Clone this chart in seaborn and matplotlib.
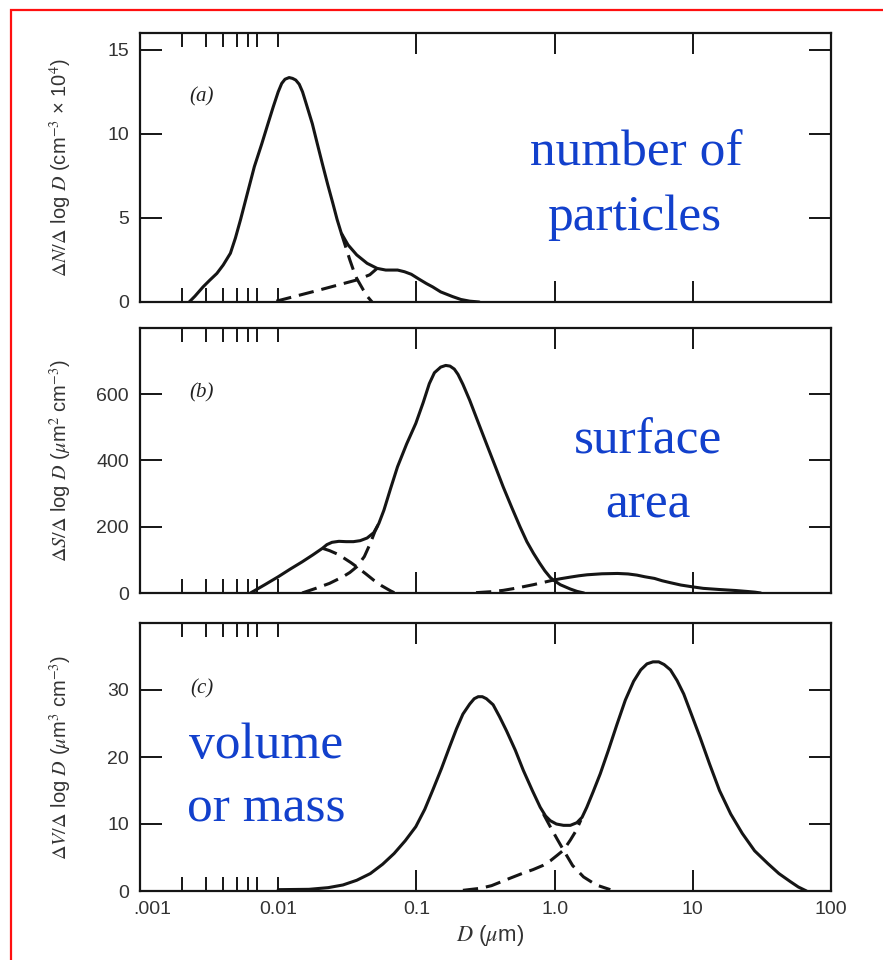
import matplotlib
matplotlib.use('Agg')
import matplotlib.pyplot as plt
import matplotlib.ticker as mticker
from matplotlib.patches import Rectangle
from matplotlib.transforms import ScaledTranslation
import seaborn as sns

# (a) number distribution, dN/dlogD (cm^-3 x 10^4)
a_total_d = [0.00227, 0.0025, 0.00286, 0.0032, 0.0036, 0.0040, 0.00451, 0.0049, 0.00534,
             0.0060, 0.00672, 0.0076, 0.00843, 0.0092, 0.0100, 0.0106, 0.0112, 0.0120,
             0.0127, 0.0134, 0.0142, 0.0150, 0.0158, 0.01766, 0.0192, 0.0209, 0.0228,
             0.0248, 0.0267, 0.0286, 0.0320, 0.037, 0.044, 0.052, 0.060, 0.0731, 0.082,
             0.0918, 0.105, 0.118, 0.131, 0.150, 0.183, 0.210, 0.243, 0.285]
a_total_n = [0, 0.35, 0.9, 1.3, 1.7, 2.2, 2.9, 3.8, 4.9,
             6.5, 8.05, 9.4, 10.6, 11.6, 12.5, 13.0, 13.25, 13.35,
             13.3, 13.2, 12.95, 12.5, 11.9, 10.6, 9.4, 8.2, 7.0,
             5.9, 4.9, 4.1, 3.4, 2.8, 2.3, 2.0, 1.9, 1.9, 1.8,
             1.65, 1.35, 1.1, 0.9, 0.6, 0.32, 0.15, 0.05, 0]
a_nuclei_d = [0.0286, 0.031, 0.033, 0.035, 0.037, 0.0414, 0.0445, 0.0478]
a_nuclei_n = [4.1, 3.2, 2.5, 1.9, 1.4, 0.7, 0.3, 0]
a_accum_d = [0.0097, 0.0198, 0.037, 0.046, 0.052]
a_accum_n = [0.05, 0.71, 1.31, 1.62, 2.0]

# (b) surface distribution, dS/dlogD (um^2 cm^-3)
b_fine_d = [0.0063, 0.008, 0.01, 0.0122, 0.0149, 0.0178, 0.0209, 0.0225, 0.0245, 0.0275,
            0.031, 0.035, 0.0392, 0.044, 0.0491, 0.0535, 0.0582, 0.065, 0.073, 0.085,
            0.099, 0.112, 0.124, 0.135, 0.15, 0.163, 0.175, 0.188, 0.2, 0.217,
            0.243, 0.28, 0.321, 0.37, 0.425, 0.49, 0.562, 0.63, 0.703, 0.78,
            0.85, 0.93, 0.98, 1.1, 1.3, 1.45, 1.63]
b_fine_s = [0, 25, 49, 72, 94, 115, 135, 146, 153, 156,
            155, 155, 158, 166, 182, 210, 250, 315, 381, 450,
            512, 575, 632, 665, 682, 687, 685, 676, 660, 630,
            582, 515, 451, 385, 320, 258, 200, 155, 120, 90,
            67, 47, 39, 25, 12, 5, 0]
b_nuclei_d = [0.0209, 0.0235, 0.027, 0.030, 0.0335, 0.037, 0.043, 0.049, 0.056, 0.0653, 0.070]
b_nuclei_s = [135, 128, 117, 105, 92, 79, 58, 39, 22, 6, 0]
b_accum_d = [0.0149, 0.0187, 0.0235, 0.0294, 0.033, 0.037, 0.042, 0.0464, 0.050, 0.0535]
b_accum_s = [0, 14, 29, 49, 62, 79, 110, 150, 185, 210]
b_coarse_dash_d = [0.27, 0.35, 0.425, 0.5, 0.594, 0.7, 0.83, 0.98]
b_coarse_dash_s = [1, 4, 8, 13, 19, 25, 32, 39]
b_coarse_d = [0.98, 1.1, 1.3, 1.5, 1.72, 2.2, 2.85, 3.4, 3.94, 4.5, 5.28, 6.0, 6.9, 8.2,
              9.8, 11.9, 15.6, 20.4, 25, 28.2, 31]
b_coarse_s = [39, 43, 48, 52, 55, 58, 59, 57.5, 54, 49, 44, 37, 31, 24,
              19, 14, 10.5, 7.5, 4.5, 2.5, 0]

# (c) volume distribution, dV/dlogD (um^3 cm^-3)
c_total_d = [0.01, 0.0167, 0.023, 0.0294, 0.037, 0.0464, 0.057, 0.069, 0.083, 0.099,
             0.115, 0.131, 0.152, 0.173, 0.195, 0.217, 0.243, 0.262, 0.28, 0.30,
             0.321, 0.359, 0.40, 0.449, 0.52, 0.594, 0.69, 0.787, 0.86, 0.93,
             1.03, 1.16, 1.3, 1.45, 1.58, 1.71, 1.9, 2.14, 2.45, 2.83,
             3.25, 3.73, 4.2, 4.66, 5.15, 5.67, 6.2, 6.89, 7.7, 8.6,
             9.8, 11.3, 13.2, 15.6, 18.8, 22.8, 28, 34.9, 42, 50.8, 58, 66.5]
c_total_v = [0.2, 0.25, 0.5, 0.9, 1.6, 2.6, 4.0, 5.6, 7.5, 9.6,
             12.2, 15.0, 18.3, 21.4, 24.2, 26.4, 27.9, 28.7, 29.0, 29.0,
             28.7, 27.8, 26.0, 23.9, 21.0, 18.0, 15.0, 12.5, 11.2, 10.5,
             10.0, 9.8, 9.8, 10.2, 11.0, 12.5, 14.8, 17.5, 21.0, 24.9,
             28.5, 31.3, 33.0, 33.9, 34.2, 34.2, 33.8, 33.0, 31.4, 29.4,
             26.3, 22.9, 19.0, 15.0, 11.5, 8.6, 6.0, 4.1, 2.6, 1.4, 0.6, 0]
c_fine_d = [0.83, 0.93, 1.04, 1.16, 1.35, 1.62, 2.0, 2.53]
c_fine_v = [11.5, 9.6, 7.8, 6.1, 3.8, 2.1, 0.9, 0.2]
c_coarse_d = [0.217, 0.29, 0.35, 0.475, 0.58, 0.70, 0.82, 0.93, 1.04, 1.16, 1.3, 1.43, 1.55]
c_coarse_v = [0.1, 0.4, 0.8, 1.9, 2.6, 3.2, 3.8, 4.5, 5.3, 6.1, 7.6, 9.0, 10.6]

x_major = [0.001, 0.01, 0.1, 1, 10, 100]
x_labels = ['.001', '0.01', '0.1', '1.0', '10', '100']
x_minor = [0.002, 0.003, 0.004, 0.005, 0.006, 0.007]

sns.set_theme(style='white')
plt.rcParams['font.family'] = ['Liberation Sans', 'DejaVu Sans']
plt.rcParams['mathtext.fontset'] = 'stix'

W, H = 883, 960
fig = plt.figure(figsize=(W / 100, H / 100), dpi=100)
fig.patch.set_facecolor('white')

ink = '#151515'
grey = '#333333'
blue = '#1240cc'


def panel(top, bottom):
    return fig.add_axes([140 / W, 1 - bottom / H, 691 / W, (bottom - top) / H])


def curve(ax, d, v, dashed=False):
    sns.lineplot(x=d, y=v, ax=ax, color=ink, lw=2.2, estimator=None, sort=False,
                 solid_joinstyle='round', solid_capstyle='round')
    if dashed:
        ax.lines[-1].set_dashes((5, 2.6))


def style(ax, ylim, yticks, show_x):
    ax.set_xscale('log')
    ax.set_xlim(0.001, 100)
    ax.set_ylim(*ylim)
    ax.set_yticks(yticks)
    ax.xaxis.set_major_locator(mticker.FixedLocator(x_major))
    ax.xaxis.set_minor_locator(mticker.FixedLocator(x_minor))
    ax.xaxis.set_minor_formatter(mticker.NullFormatter())
    ax.set_xticklabels(x_labels if show_x else [])
    ax.tick_params(axis='x', which='major', direction='in', top=True, bottom=True,
                   length=15, width=1.4, color=ink, pad=7, labelsize=14, labelcolor=grey)
    ax.tick_params(axis='x', which='minor', direction='in', top=True, bottom=True,
                   length=10, width=1.4, color=ink)
    ax.tick_params(axis='y', direction='in', left=True, right=True, length=16,
                   width=1.4, color=ink, pad=8, labelsize=14, labelcolor=grey)
    # the 0.01 mark is a short one in the original
    t = ax.xaxis.get_major_ticks()[1]
    t.tick1line.set_markersize(10)
    t.tick2line.set_markersize(10)
    for s in ax.spines.values():
        s.set_linewidth(1.6)
        s.set_color(ink)
    ax.grid(False)


ax_a = panel(33, 302)
ax_b = panel(328, 593)
ax_c = panel(623, 891)

# (a)
curve(ax_a, a_total_d, a_total_n)
curve(ax_a, a_nuclei_d, a_nuclei_n, dashed=True)
curve(ax_a, a_accum_d, a_accum_n, dashed=True)
style(ax_a, (0, 16), [0, 5, 10, 15], False)
ax_a.set_ylabel(r'$\Delta N/\Delta$ log $D$ (cm$^{-3}$ × 10$^4$)', fontsize=14.5, color=grey)

# (b)
curve(ax_b, b_fine_d, b_fine_s)
curve(ax_b, b_nuclei_d, b_nuclei_s, dashed=True)
curve(ax_b, b_accum_d, b_accum_s, dashed=True)
curve(ax_b, b_coarse_dash_d, b_coarse_dash_s, dashed=True)
curve(ax_b, b_coarse_d, b_coarse_s)
style(ax_b, (0, 800), [0, 200, 400, 600], False)
ax_b.set_ylabel(r'$\Delta S/\Delta$ log $D$ ($\mu$m$^2$ cm$^{-3}$)', fontsize=14.5, color=grey)

# (c)
curve(ax_c, c_total_d, c_total_v)
curve(ax_c, c_fine_d, c_fine_v, dashed=True)
curve(ax_c, c_coarse_d, c_coarse_v, dashed=True)
style(ax_c, (0, 40), [0, 10, 20, 30], True)
ax_c.set_ylabel(r'$\Delta V/\Delta$ log $D$ ($\mu$m$^3$ cm$^{-3}$)', fontsize=14.5, color=grey)
ax_c.set_xlabel(r'$D$ ($\mu$m)', fontsize=16, color=grey)
ax_c.xaxis.set_label_coords(0.5065, -0.118)

# nudge the ".001" label like in the original
lab = ax_c.get_xticklabels()[0]
lab.set_transform(lab.get_transform() + ScaledTranslation(0.12, 0, fig.dpi_scale_trans))

for ax in (ax_a, ax_b, ax_c):
    ax.yaxis.set_label_coords(-0.095, 0.5)

for ax, tag, y in ((ax_a, '(a)', 0.762), (ax_b, '(b)', 0.755), (ax_c, '(c)', 0.754)):
    ax.text(0.089, y, tag, transform=ax.transAxes, fontsize=15, style='italic',
            family='Liberation Serif', ha='center', va='center', color='#222222')

# blue annotations
notes = [('number of', 636, 165), ('particles', 634, 230),
         ('surface', 648, 453), ('area', 648, 518),
         ('volume', 266, 758), ('or mass', 266, 822)]
for txt, x, y in notes:
    fig.text(x / W, 1 - y / H, txt, ha='center', va='baseline', fontsize=37,
             family='Liberation Serif', color=blue)

# red frame
fig.patches.append(Rectangle((11 / W, -0.05), 900 / W, 1.05 - 10 / H, transform=fig.transFigure,
                             fill=False, edgecolor='#ff1010', lw=1.6))

fig.savefig('out.png', dpi=100)
